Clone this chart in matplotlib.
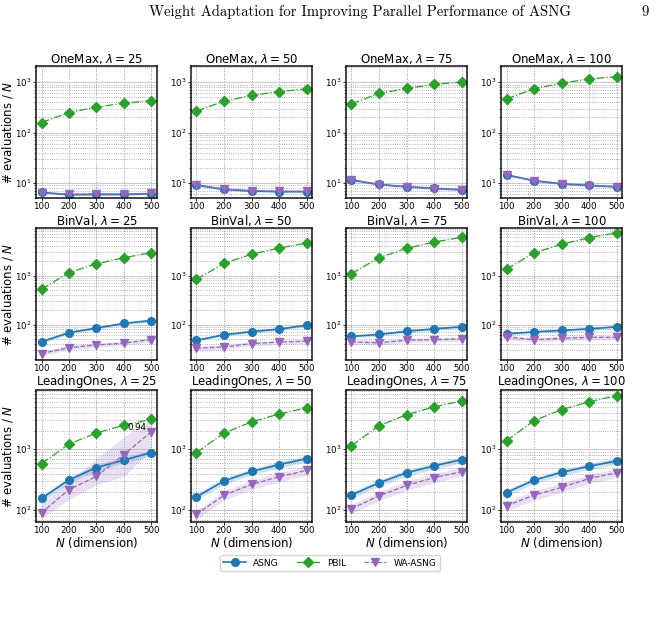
import matplotlib
matplotlib.use('Agg')
import matplotlib.pyplot as plt
from matplotlib.lines import Line2D
import numpy as np

N_VALUES = [100, 200, 300, 400, 500]
LAMBDAS = [25, 50, 75, 100]
FUNCTIONS = ['OneMax', 'BinVal', 'LeadingOnes']
METHODS = ['ASNG', 'PBIL', 'WA-ASNG']

# rows: lambda = 25, 50, 75, 100
ONEMAX_ASNG = [[6.5, 5.8, 5.9, 5.9, 6.1], [9.0, 7.4, 6.9, 6.7, 6.7],
               [11.4, 9.3, 8.4, 7.8, 7.3], [14.4, 11.1, 9.6, 8.9, 8.4]]
ONEMAX_PBIL = [[158, 250, 320, 383, 430], [268, 418, 546, 652, 733],
               [372, 597, 756, 902, 1015], [464, 745, 955, 1160, 1285]]
ONEMAX_WA = [[6.3, 6.0, 6.0, 6.0, 6.2], [9.2, 7.5, 7.0, 6.8, 6.8],
             [11.6, 9.2, 8.3, 7.7, 7.2], [14.2, 11.0, 9.5, 8.8, 8.3]]

BINVAL_ASNG = [[44.6, 68.8, 85, 106, 121], [48, 62, 72, 81, 97],
               [57.5, 63, 73, 82, 90], [65, 71, 76, 82, 90]]
BINVAL_PBIL = [[525, 1145, 1740, 2310, 2940], [836, 1766, 2725, 3620, 4590],
               [1090, 2310, 3570, 4800, 6000], [1350, 2890, 4320, 5900, 7400]]
BINVAL_WA = [[25.7, 34, 38.4, 42, 49.5], [33, 35, 41, 44, 46],
             [44.6, 42.6, 48, 49.5, 51], [56, 49, 52.6, 55, 55]]

LO_ASNG = [[156, 314, 502, 666, 885], [166, 302, 432, 560, 700],
           [178, 281, 412, 533, 675], [195, 310, 418, 527, 641]]
LO_PBIL = [[582, 1218, 1850, 2490, 3100], [885, 1850, 2810, 3790, 4780],
           [1145, 2430, 3690, 4960, 6200], [1377, 2950, 4480, 6000, 7630]]
LO_WA = [[91, 217, 360, 820, 1945], [86, 176, 265, 353, 450],
         [106, 172, 255, 342, 428], [119, 176, 237, 330, 412]]

# explicit band for LeadingOnes, lambda=25, WA-ASNG
LO_WA25_LOW = [73, 150, 260, 360, 980]
LO_WA25_HIGH = [126, 300, 700, 1600, 3200]

# relative band half-widths (ASNG, WA-ASNG)
BAND_ASNG = [0.04, 0.07, 0.12]
BAND_WA = [0.04, 0.10, 0.17]

SUCCESS_LABEL = '0.94'

ROW_YLIM = [(5.0, 2100), (19, 9300), (64, 9400)]

DATA = {
    'OneMax': (ONEMAX_ASNG, ONEMAX_PBIL, ONEMAX_WA),
    'BinVal': (BINVAL_ASNG, BINVAL_PBIL, BINVAL_WA),
    'LeadingOnes': (LO_ASNG, LO_PBIL, LO_WA),
}

C_ASNG = '#1f77b4'
C_PBIL = '#2ca02c'
C_WA = '#9467bd'

W, H = 666, 622
fig = plt.figure(figsize=(W / 100, H / 100), dpi=100)

lefts = [36, 191, 346, 501]
tops = [66, 228, 390]
aw, ah = 121, 132

fig.text(360 / W, 1 - 12 / H, 'Weight Adaptation for Improving Parallel Performance of ASNG',
         ha='center', va='center', fontsize=10.6, family='cmr10')
fig.text(645 / W, 1 - 12 / H, '9', ha='center', va='center', fontsize=10.6, family='cmr10')

x = np.array(N_VALUES)
for r, fname in enumerate(FUNCTIONS):
    asng_all, pbil_all, wa_all = DATA[fname]
    for c, lam in enumerate(LAMBDAS):
        ax = fig.add_axes([lefts[c] / W, 1 - (tops[r] + ah) / H, aw / W, ah / H])
        ax.set_yscale('log')
        asng = np.array(asng_all[c], float)
        pbil = np.array(pbil_all[c], float)
        wa = np.array(wa_all[c], float)
        ax.fill_between(x, asng * (1 - BAND_ASNG[r]), asng * (1 + BAND_ASNG[r]),
                        color=C_ASNG, alpha=0.2, lw=0)
        if r == 2 and c == 0:
            ax.fill_between(x, LO_WA25_LOW, LO_WA25_HIGH, color=C_WA, alpha=0.2, lw=0)
        else:
            ax.fill_between(x, wa * (1 - BAND_WA[r]), wa * (1 + BAND_WA[r]),
                            color=C_WA, alpha=0.2, lw=0)
        ax.plot(x, asng, '-', marker='o', color=C_ASNG, ms=5.5, lw=1.2)
        ax.plot(x, pbil, '-.', marker='D', color=C_PBIL, ms=5, lw=0.9)
        ax.plot(x, wa, '--', marker='v', color=C_WA, ms=6, lw=0.9)
        if r == 2 and c == 0:
            ax.text(482, 2280, SUCCESS_LABEL, ha='right', va='center', fontsize=6.2)
        ax.set_xlim(80, 520)
        ax.set_ylim(*ROW_YLIM[r])
        ax.set_xticks(N_VALUES)
        ax.tick_params(axis='both', which='major', labelsize=6.2, length=2, width=0.6, pad=1)
        ax.tick_params(axis='y', which='minor', length=1.5, width=0.4)
        ax.grid(True, which='major', ls='-', color='#c8c8c8', lw=0.7)
        ax.grid(True, which='minor', axis='y', ls=':', color='#9a9a9a', lw=0.6)
        ax.grid(True, which='major', axis='x', ls=':', color='#9a9a9a', lw=0.7)
        ax.set_axisbelow(True)
        for s in ax.spines.values():
            s.set_color('#111111')
            s.set_linewidth(1.1)
        ax.set_title(f'{fname}, $\\lambda = {lam}$', fontsize=8.5, pad=1)
        if c == 0:
            ax.set_ylabel('# evaluations / $N$', fontsize=8.5, labelpad=0)
        if r == 2:
            ax.set_xlabel('$N$ (dimension)', fontsize=8.5, labelpad=0)

handles = [
    Line2D([], [], color=C_ASNG, ls='-', marker='o', ms=5.5, lw=1.2),
    Line2D([], [], color=C_PBIL, ls='-', marker='D', ms=5, lw=0.9),
    Line2D([], [], color=C_WA, ls='--', marker='v', ms=6, lw=0.9),
]
fig.legend(handles, METHODS, loc='center', bbox_to_anchor=(330 / W, 1 - 563 / H), ncol=3,
           fontsize=6.5, frameon=True, columnspacing=2.0, handlelength=2.5,
           borderpad=0.4, fancybox=True, edgecolor='#cccccc')

fig.savefig('out.png', dpi=100)
